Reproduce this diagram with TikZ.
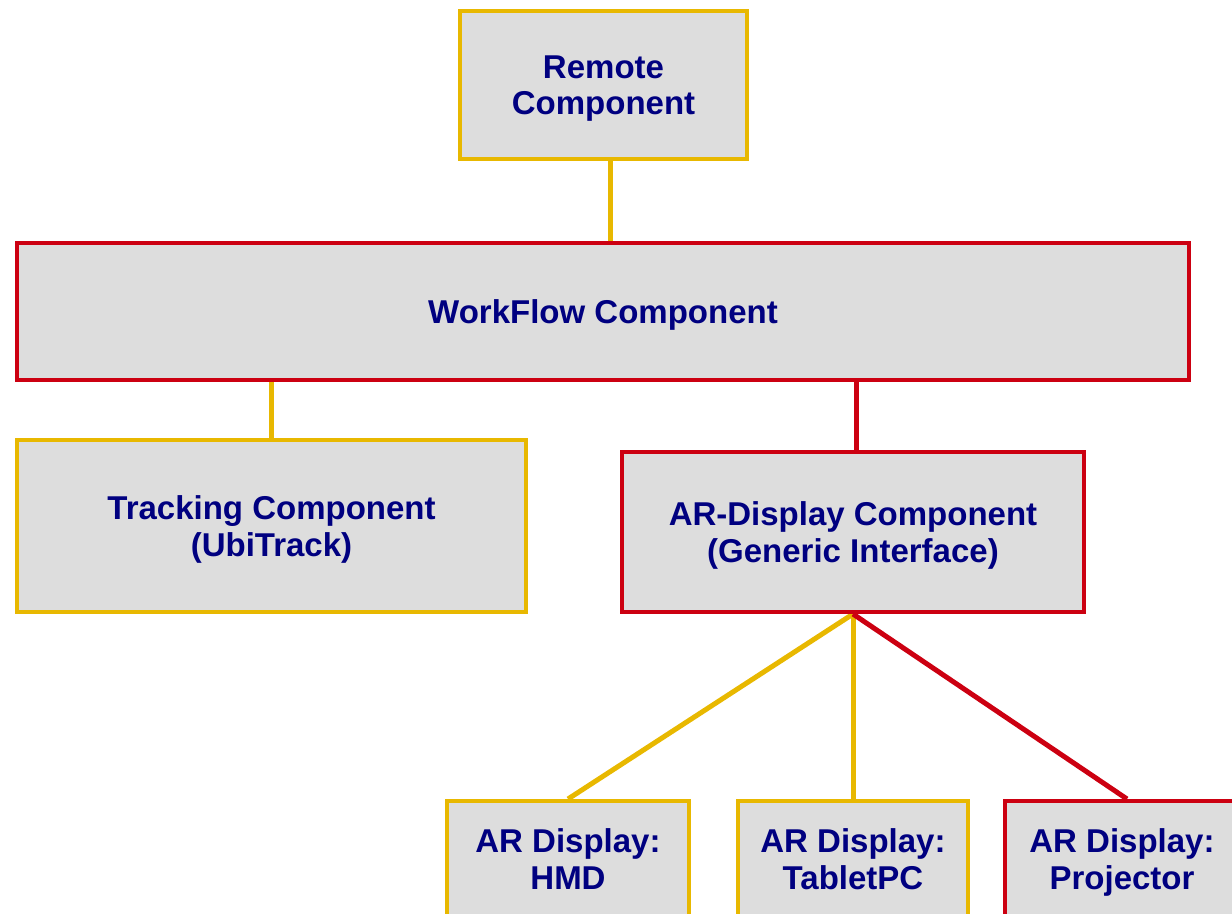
\documentclass[tikz,border=0pt]{standalone}
\usepackage{fontspec}
\setmainfont{Liberation Sans}
\usetikzlibrary{backgrounds}
\definecolor{boxyellow}{HTML}{E8B800}
\definecolor{boxred}{HTML}{CC0011}
\definecolor{boxfill}{HTML}{DDDDDD}
\definecolor{navytext}{HTML}{000080}
\tikzset{
  comp/.style={rectangle, fill=boxfill, line width=3pt, align=center, text=navytext,
    font=\fontsize{24.75pt}{27.5pt}\selectfont\bfseries, inner sep=0pt, text depth=0pt},
  ycomp/.style={comp, draw=boxyellow},
  rcomp/.style={comp, draw=boxred},
  yline/.style={draw=boxyellow, line width=3.75pt},
  rline/.style={draw=boxred, line width=3.75pt}
}
\begin{document}
\begin{tikzpicture}[x=0.75pt, y=-0.75pt]
\useasboundingbox (0,0) rectangle (1232,914);
\clip (0,0) rectangle (1232,914);
\node[ycomp, minimum width=287*0.75pt, minimum height=148*0.75pt] (remote) at (603.5,85) {Remote\\Component};
\node[rcomp, minimum width=1172*0.75pt, minimum height=137*0.75pt] (workflow) at (603,311.5) {WorkFlow Component};
\node[ycomp, minimum width=509*0.75pt, minimum height=172*0.75pt] (tracking) at (271.5,526) {Tracking Component\\(UbiTrack)};
\node[rcomp, minimum width=462*0.75pt, minimum height=160*0.75pt] (ardisp) at (853,532) {AR-Display Component\\(Generic Interface)};
\node[ycomp, minimum width=242*0.75pt, minimum height=116*0.75pt] (hmd) at (568,859) {AR Display:\\HMD};
\node[ycomp, minimum width=230*0.75pt, minimum height=116*0.75pt] (tablet) at (853,859) {AR Display:\\TabletPC};
\node[rcomp, minimum width=235*0.75pt, minimum height=116*0.75pt] (proj) at (1122,859) {AR Display:\\Projector};
\begin{pgfonlayer}{background}
\draw[yline] (remote.south -| 610,0) -- (workflow.north -| 610,0);
\draw[yline] (tracking.north) -- (tracking.north |- workflow.south);
\draw[rline] (ardisp.north -| 856,0) -- (workflow.south -| 856,0);
\draw[yline] (ardisp.south) -- (hmd.north);
\draw[yline] (ardisp.south) -- (tablet.north);
\draw[rline] (ardisp.south) -- ([xshift=3.75pt]proj.north);
\end{pgfonlayer}
\end{tikzpicture}
\end{document}
